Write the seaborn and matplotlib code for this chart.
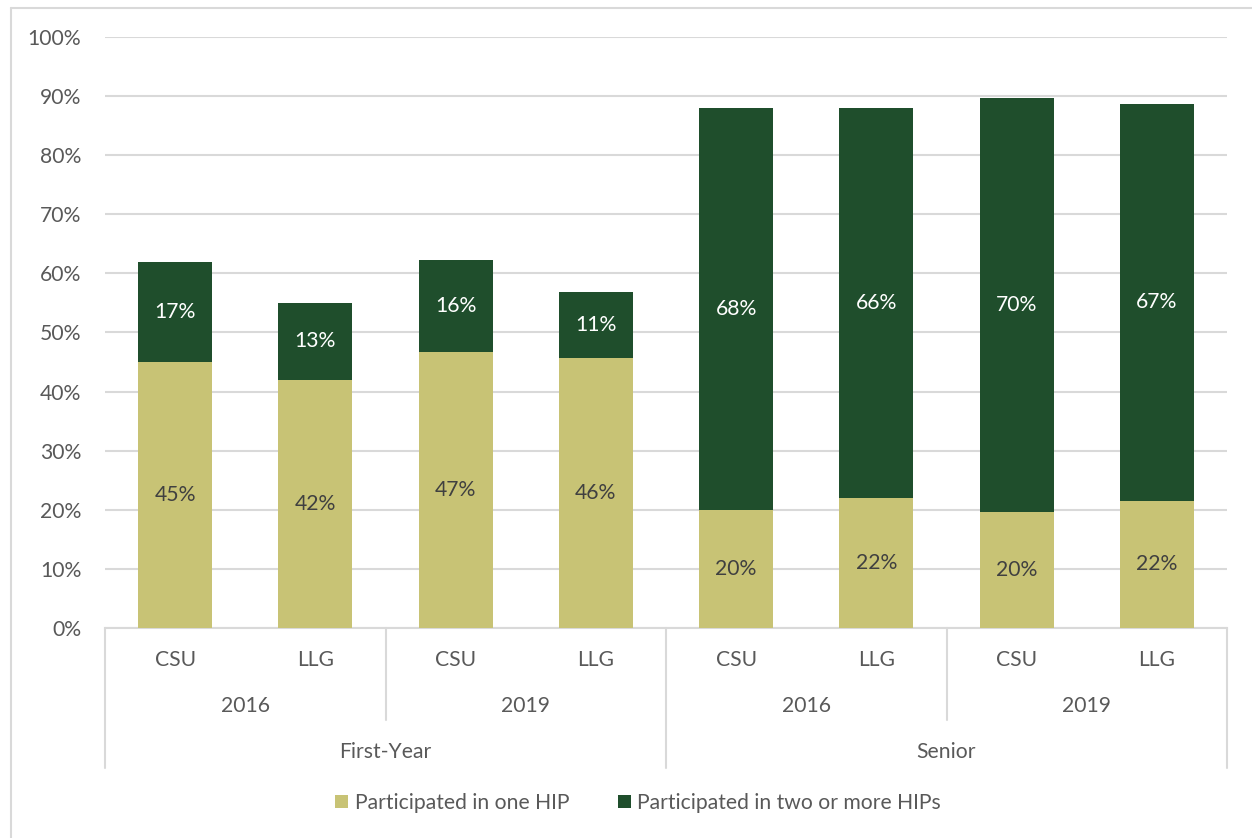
import matplotlib
matplotlib.use("Agg")
import matplotlib.pyplot as plt
from matplotlib.lines import Line2D
from matplotlib.patches import Patch
import pandas as pd
import seaborn as sns

# Participation in high-impact practices (HIPs), percent of students
groups = ["First-Year", "First-Year", "First-Year", "First-Year",
          "Senior", "Senior", "Senior", "Senior"]
years = ["2016", "2016", "2019", "2019", "2016", "2016", "2019", "2019"]
campus = ["CSU", "LLG", "CSU", "LLG", "CSU", "LLG", "CSU", "LLG"]
one_hip = [45.0, 42.0, 46.7, 45.7, 20.0, 22.0, 19.6, 21.5]
two_plus = [17.0, 13.0, 15.6, 11.2, 68.0, 66.0, 70.1, 67.2]

series_names = ["Participated in one HIP", "Participated in two or more HIPs"]
light = "#C8C375"
dark = "#1F4E2C"
grid_c = "#D9D9D9"
text_c = "#595959"
FS = 15.2

keys = [f"{g}|{y}|{c}" for g, y, c in zip(groups, years, campus)]
df = pd.DataFrame({"key": keys, "one": one_hip, "two": two_plus})
df["total"] = df["one"] + df["two"]

sns.set_theme(style="white")
plt.rcParams["font.family"] = ["Lato", "DejaVu Sans"]

fig = plt.figure(figsize=(12.52, 8.38), dpi=100)
W, H = 1252, 838
ax = fig.add_axes([105 / W, 1 - 628 / H, (1227 - 105) / W, (628 - 37) / H])

bw = 0.528
sns.barplot(data=df, x="key", y="total", order=keys, color=dark,
            saturation=1, width=bw, ax=ax, zorder=3, errorbar=None,
            linewidth=0)
sns.barplot(data=df, x="key", y="one", order=keys, color=light,
            saturation=1, width=bw, ax=ax, zorder=4, errorbar=None,
            linewidth=0)

ax.set_xlim(-0.5, len(keys) - 0.5)
ax.set_ylim(0, 100)
ax.set_yticks(range(0, 101, 10))
ax.set_yticklabels([f"{v}%" for v in range(0, 101, 10)])
ax.yaxis.grid(True, color=grid_c, linewidth=1.5, zorder=0)
ax.set_axisbelow(True)
for s in ["top", "right", "left"]:
    ax.spines[s].set_visible(False)
ax.spines["bottom"].set_color(grid_c)
ax.spines["bottom"].set_linewidth(1.5)
ax.tick_params(axis="y", length=0, pad=17, labelsize=FS, labelcolor=text_c)
ax.set_xticks([])
ax.set_xlabel("")
ax.set_ylabel("")

# value labels centred in each segment
for i, (a, b) in enumerate(zip(one_hip, two_plus)):
    ax.text(i, a / 2, f"{a:.0f}%", ha="center", va="center",
            fontsize=FS, color="#404040", zorder=6)
    ax.text(i, a + b / 2, f"{b:.0f}%", ha="center", va="center",
            fontsize=FS, color="white", zorder=6)

# multi-level category axis
tr = ax.get_xaxis_transform()
ah = 628 - 37
y1 = (628 - 660) / ah
y2 = (628 - 706) / ah
y3 = (628 - 752) / ah
for i, c in enumerate(campus):
    ax.text(i, y1, c, transform=tr, ha="center", va="center",
            fontsize=FS, color=text_c)
for i in range(0, len(keys), 2):
    ax.text(i + 0.5, y2, years[i], transform=tr, ha="center", va="center",
            fontsize=FS, color=text_c)
for i in range(0, len(keys), 4):
    ax.text(i + 1.5, y3, groups[i], transform=tr, ha="center", va="center",
            fontsize=FS, color=text_c)

y_long = (628 - 768) / ah
y_short = (628 - 720) / ah
for xb in [-0.5, 3.5, 7.5]:
    ax.add_line(Line2D([xb, xb], [0, y_long], transform=tr, color=grid_c,
                       linewidth=1.5, clip_on=False))
for xb in [1.5, 5.5]:
    ax.add_line(Line2D([xb, xb], [0, y_short], transform=tr, color=grid_c,
                       linewidth=1.5, clip_on=False))

# legend
handles = [Patch(facecolor=light, edgecolor="none"),
           Patch(facecolor=dark, edgecolor="none")]
fig.legend(handles, series_names, loc="center",
           bbox_to_anchor=(638 / W, 1 - 803 / H), ncol=2, frameon=False,
           fontsize=FS, labelcolor=text_c, handlelength=0.62,
           handleheight=0.62, handletextpad=0.3, columnspacing=2.3)

# chart area border
fig.add_artist(Line2D([11 / W, 11 / W], [0, 1 - 8 / H], color=grid_c,
                      linewidth=1.5, transform=fig.transFigure))
fig.add_artist(Line2D([11 / W, 1], [1 - 8 / H, 1 - 8 / H], color=grid_c,
                      linewidth=1.5, transform=fig.transFigure))

fig.savefig("out.png", dpi=100, facecolor="white")
